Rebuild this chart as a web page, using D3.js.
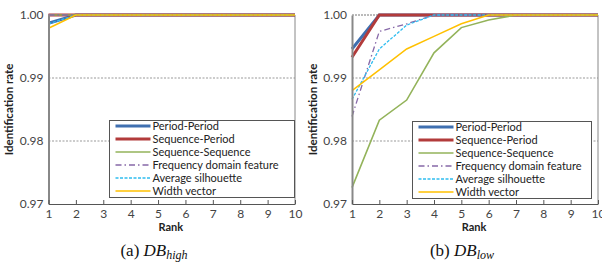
<!DOCTYPE html>
<html><head><meta charset="utf-8">
<script src="https://cdn.jsdelivr.net/npm/d3@7"></script>
<style>body{margin:0;background:#fff}svg{display:block}</style>
</head><body>
<svg id="c" width="602" height="264"></svg>
<script>
const ranks = [1,2,3,4,5,6,7,8,9,10];
const yTicks = [0.97, 0.98, 0.99, 1.00];
const seriesNames = ["Period-Period","Sequence-Period","Sequence-Sequence","Frequency domain feature","Average silhouette","Width vector"];
const seriesColors = ["#3f6fb0","#b23b3b","#93b35a","#8668a8","#2fbdf0","#ffc000"];
// DB_high
const highPP  = [0.9987,1,1,1,1,1,1,1,1,1];
const highSP  = [1,1,1,1,1,1,1,1,1,1];
const highSS  = [1,1,1,1,1,1,1,1,1,1];
const highFDF = [1,1,1,1,1,1,1,1,1,1];
const highAS  = [0.9986,1,1,1,1,1,1,1,1,1];
const highWV  = [0.9979,1,1,1,1,1,1,1,1,1];
// DB_low
const lowPP  = [0.9946,1,1,1,1,1,1,1,1,1];
const lowSP  = [0.9933,1,1,1,1,1,1,1,1,1];
const lowSS  = [0.9726,0.9833,0.9865,0.9940,0.9980,0.9992,1,1,1,1];
const lowFDF = [0.9839,0.9974,0.9986,1,1,1,1,1,1,1];
const lowAS  = [0.9866,0.9946,0.9984,1,1,1,1,1,1,1];
const lowWV  = [0.9880,0.9913,0.9946,0.9966,0.9986,1,1,1,1,1];

const styles = [
  {w:3, dash:null},
  {w:3, dash:null},
  {w:1.6, dash:null},
  {w:1.3, dash:"6,3,1.5,3"},
  {w:1.3, dash:"3,1.5"},
  {w:1.5, dash:null}
];

const svg = d3.select("#c");
const FONT = "Lato, 'Open Sans', sans-serif";

function panel(cfg){
  const {x0,x1,y0,y1,data,leg,titleX,caption,sub,capX} = cfg;
  const x = d3.scaleLinear().domain([1,10]).range([x0,x1]);
  const y = d3.scaleLinear().domain([0.97,1.0]).range([y1,y0]);
  const g = svg.append("g");
  g.selectAll("line.grid").data([0.98,0.99,1.0]).join("line")
    .attr("x1",x0).attr("x2",x1).attr("y1",d=>y(d)).attr("y2",d=>y(d))
    .attr("stroke", d=> d===1 ? "#777" : "#999").attr("stroke-width",1)
    .attr("stroke-dasharray", d=> d===1 ? "2,1" : "2,1.5");
  g.append("line").attr("x1",x1).attr("x2",x1).attr("y1",y0).attr("y2",y1).attr("stroke","#888").attr("stroke-width",1);
  const line = d3.line().x((d,i)=>x(ranks[i])).y(d=>y(d));
  data.forEach((s,i)=>{
    g.append("path").attr("d",line(s)).attr("fill","none")
      .attr("stroke",seriesColors[i]).attr("stroke-width",styles[i].w)
      .attr("stroke-dasharray",styles[i].dash);
  });
  const ya = d3.axisLeft(y).tickValues(yTicks).tickFormat(d3.format(".2f")).tickSize(0).tickPadding(5);
  const yg = g.append("g").attr("transform",`translate(${x0},0)`).call(ya);
  yg.select(".domain").attr("stroke","#888").attr("stroke-width",2);
  yg.selectAll("text").attr("font-family",FONT).attr("font-size",12).attr("fill","#444");
  const xa = d3.axisTop(x).tickValues(ranks).tickSize(4).tickSizeOuter(0).tickFormat(d3.format("d"));
  const xg = g.append("g").attr("transform",`translate(0,${y1})`).call(xa);
  xg.select(".domain").attr("stroke","#555").attr("stroke-width",1);
  xg.selectAll(".tick line").attr("stroke","#555");
  xg.selectAll("text").attr("y",10).attr("dy","0.32em").attr("font-family",FONT).attr("font-size",12).attr("fill","#444");
  g.append("text").attr("x",(x0+x1)/2 - 1).attr("y",231).attr("text-anchor","middle")
    .attr("font-family",FONT).attr("font-size",11).attr("font-weight","bold").attr("fill","#222").text("Rank");
  g.append("text").attr("transform",`translate(${titleX},${(y0+y1)/2}) rotate(-90)`).attr("text-anchor","middle")
    .attr("font-family",FONT).attr("font-size",11.5).attr("font-weight","bold").attr("fill","#222").text("Identification rate");
  g.append("rect").attr("x",leg.x).attr("y",leg.y).attr("width",leg.w).attr("height",leg.h)
    .attr("fill","#fff").attr("stroke","#555").attr("stroke-width",1);
  seriesNames.forEach((n,i)=>{
    const ly = leg.y + 5.5 + i*13;
    g.append("line").attr("x1",leg.x+6).attr("x2",leg.x+41).attr("y1",ly).attr("y2",ly)
      .attr("stroke",seriesColors[i]).attr("stroke-width",styles[i].w).attr("stroke-dasharray",styles[i].dash);
    g.append("text").attr("x",leg.x+43).attr("y",ly).attr("dy","0.35em")
      .attr("font-family",FONT).attr("font-size",11).attr("fill","#222").text(n);
  });
  const t = svg.append("text").attr("x",capX).attr("y",256).attr("text-anchor","middle")
    .attr("font-family","'Liberation Serif', 'DejaVu Serif', serif").attr("font-size",17).attr("fill","#111");
  t.append("tspan").text(caption+" ");
  t.append("tspan").attr("font-style","italic").text("DB");
  t.append("tspan").attr("font-style","italic").attr("font-size",12).attr("dy",3).text(sub);
}

panel({x0:48.5,x1:295,y0:15,y1:204,data:[highPP,highSP,highSS,highFDF,highAS,highWV],
  leg:{x:109.5,y:120.5,w:185,h:77},titleX:13,caption:"(a)",sub:"high",capX:154});
panel({x0:352,x1:598,y0:15,y1:204,data:[lowPP,lowSP,lowSS,lowFDF,lowAS,lowWV],
  leg:{x:412.5,y:121.5,w:179,h:77},titleX:317,caption:"(b)",sub:"low",capX:462});
</script>
</body></html>
